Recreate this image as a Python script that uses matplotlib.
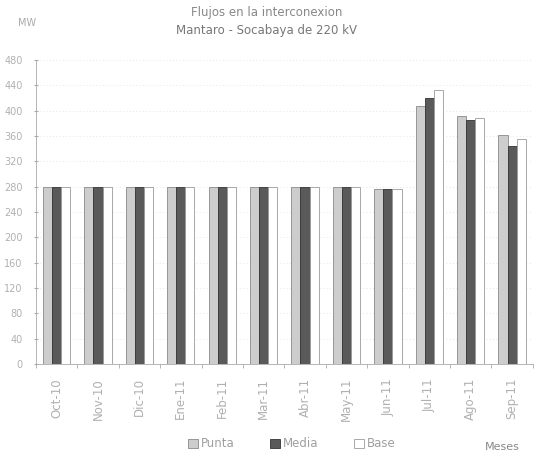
import matplotlib
matplotlib.use("Agg")
import matplotlib.pyplot as plt
import numpy as np

months = ["Oct-10", "Nov-10", "Dic-10", "Ene-11", "Feb-11", "Mar-11",
          "Abr-11", "May-11", "Jun-11", "Jul-11", "Ago-11", "Sep-11"]
punta = [279, 279, 279, 279, 279, 279, 279, 279, 277, 408, 392, 361]
media = [279, 279, 279, 279, 279, 279, 279, 279, 277, 420, 386, 344]
base = [279, 279, 279, 279, 279, 279, 279, 279, 277, 433, 389, 356]
yticks = list(range(0, 481, 40))

fig = plt.figure(figsize=(5.36, 4.59), dpi=100)
ax = fig.add_axes([0.067, 0.207, 0.927, 0.662])

x = np.arange(len(months))
w = 0.22
ax.bar(x - w, punta, w, color="#cdcdcd", edgecolor="#8a8a8a", linewidth=0.6, label="Punta", zorder=3)
ax.bar(x, media, w, color="#5a5a5a", edgecolor="#333333", linewidth=0.6, label="Media", zorder=3)
ax.bar(x + w, base, w, color="white", edgecolor="#9a9a9a", linewidth=0.6, label="Base", zorder=3)

ax.set_xlim(-0.5, len(months) - 0.5)
ax.set_ylim(0, 480)
ax.set_yticks(yticks)
ax.set_yticklabels([str(v) for v in yticks], color="#b0b0b0", fontsize=7)
ax.set_xticks(x)
ax.set_xticklabels(months, rotation=90, color="#b0b0b0", fontsize=8.5)
ax.set_xticks(np.arange(-0.5, len(months), 1), minor=True)
ax.tick_params(axis="x", which="major", length=0, pad=10)
ax.tick_params(axis="x", which="minor", length=3, color="#aaaaaa", direction="out")
ax.tick_params(axis="y", length=3, color="#aaaaaa", direction="inout", pad=8)
ax.yaxis.grid(True, linestyle=(0, (1, 3)), color="#dddddd", linewidth=0.6, zorder=0)
for s in ["top", "right"]:
    ax.spines[s].set_visible(False)
ax.spines["left"].set_color("#aaaaaa")
ax.spines["bottom"].set_color("#aaaaaa")
ax.spines["left"].set_linewidth(0.6)
ax.spines["bottom"].set_linewidth(0.6)

fig.text(0.497, 0.987, "Flujos en la interconexion", ha="center", va="top", color="#888888", fontsize=8.5)
fig.text(0.497, 0.948, "Mantaro - Socabaya de 220 kV", ha="center", va="top", color="#777777", fontsize=8.5)
fig.text(0.05, 0.95, "MW", ha="center", va="center", color="#aaaaaa", fontsize=7)
fig.text(0.937, 0.027, "Meses", ha="center", va="center", color="#888888", fontsize=8)

leg = fig.legend(loc="center", bbox_to_anchor=(0.545, 0.033), ncol=3, frameon=False,
                 fontsize=8.5, handlelength=0.8, handleheight=0.8, columnspacing=3.0,
                 handletextpad=0.3)
for t in leg.get_texts():
    t.set_color("#a0a0a0")

fig.savefig("out.png", dpi=100)
